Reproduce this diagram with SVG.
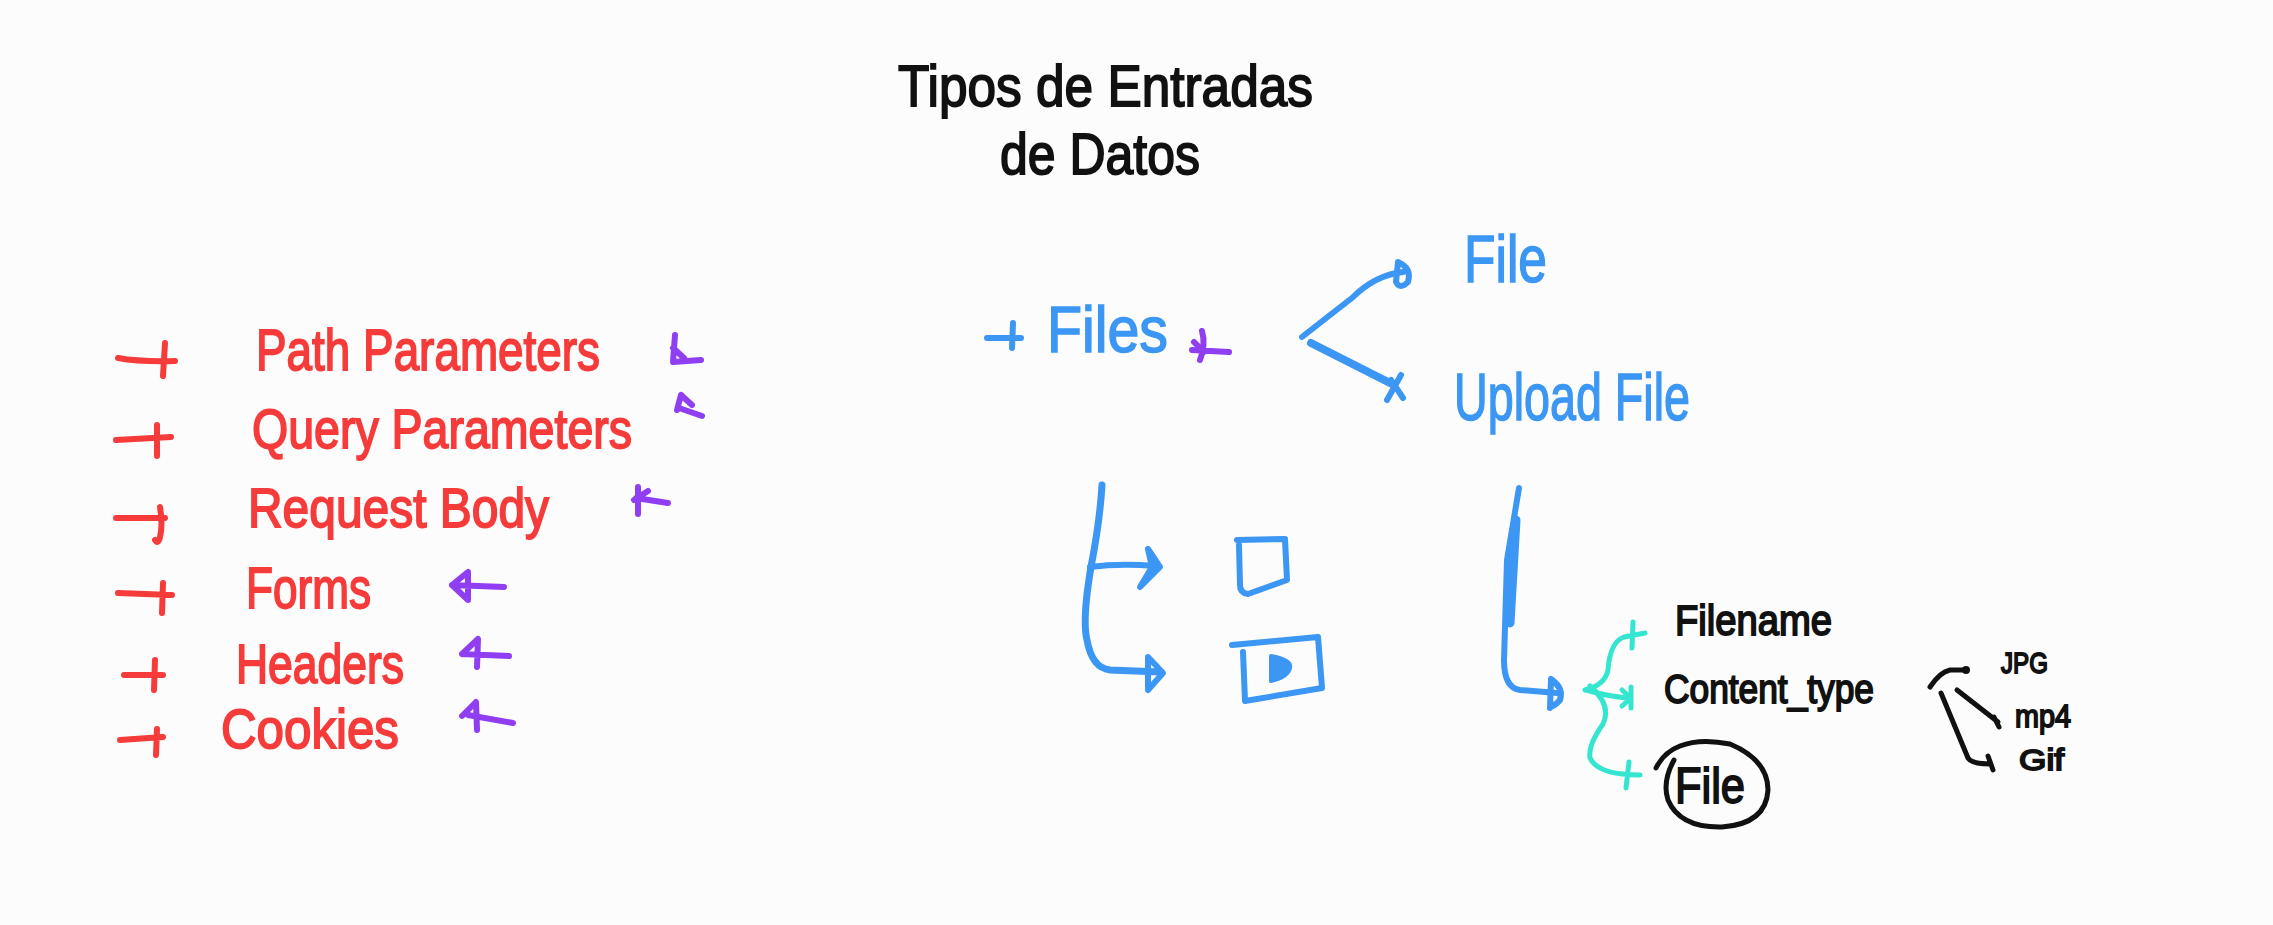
<svg xmlns="http://www.w3.org/2000/svg" width="2273" height="925" viewBox="0 0 2273 925">
<style>
.t{font-family:"Liberation Sans","DejaVu Sans",sans-serif;}
.red{fill:#f63b3b;stroke:#f63b3b;stroke-width:1.8}
.blk{fill:#111;stroke:#111;stroke-width:1.8}
.blu{fill:#3b97f3;stroke:#3b97f3;stroke-width:1.5}
.sr{fill:none;stroke:#f63b3b;stroke-width:6;stroke-linecap:round;stroke-linejoin:round}
.sp{fill:none;stroke:#8f3ef2;stroke-width:6;stroke-linecap:round;stroke-linejoin:round}
.sb{fill:none;stroke:#3b97f3;stroke-width:6;stroke-linecap:round;stroke-linejoin:round}
.st{fill:none;stroke:#34e5cf;stroke-width:5;stroke-linecap:round;stroke-linejoin:round}
.sk{fill:none;stroke:#111;stroke-width:5;stroke-linecap:round;stroke-linejoin:round}
</style>
<rect width="2273" height="925" fill="#fcfcfc"/>

<g id="title">
<text class="t blk" x="898" y="106" font-size="58" textLength="415" lengthAdjust="spacingAndGlyphs">Tipos de Entradas</text>
<text class="t blk" x="1000" y="174" font-size="58" textLength="200" lengthAdjust="spacingAndGlyphs">de Datos</text>
</g>

<g id="path-parameters">
<text class="t red" x="256" y="370" font-size="58" textLength="344" lengthAdjust="spacingAndGlyphs">Path Parameters</text>
</g>
<g id="query-parameters">
<text class="t red" x="252" y="448" font-size="56" textLength="380" lengthAdjust="spacingAndGlyphs">Query Parameters</text>
</g>
<g id="request-body">
<text class="t red" x="248" y="527" font-size="56" textLength="301" lengthAdjust="spacingAndGlyphs">Request Body</text>
</g>
<g id="forms">
<text class="t red" x="246" y="608" font-size="58" textLength="125" lengthAdjust="spacingAndGlyphs">Forms</text>
</g>
<g id="headers">
<text class="t red" x="236" y="683" font-size="56" textLength="168" lengthAdjust="spacingAndGlyphs">Headers</text>
</g>
<g id="cookies">
<text class="t red" x="221" y="748" font-size="56" textLength="178" lengthAdjust="spacingAndGlyphs">Cookies</text>
</g>

<g id="files">
<text class="t blu" x="1047" y="352" font-size="64" textLength="121" lengthAdjust="spacingAndGlyphs">Files</text>
</g>
<g id="file">
<text class="t blu" x="1464" y="282" font-size="66" textLength="83" lengthAdjust="spacingAndGlyphs">File</text>
</g>
<g id="upload-file">
<text class="t blu" x="1454" y="420" font-size="66" textLength="236" lengthAdjust="spacingAndGlyphs">Upload File</text>
</g>

<g id="list-icon">
<path class="sb" d="M1237,540 L1285,539 L1287,580 L1248,594 Q1240,593 1240,585 L1239,545"/>
</g>
<g id="video-icon">
<path class="sb" d="M1232,645 L1318,637 L1322,688 L1245,701 L1243,652"/>
<path d="M1271,656 Q1292,660 1290,668 Q1288,677 1271,681 Z" fill="#3b97f3" stroke="#3b97f3" stroke-width="4" stroke-linejoin="round"/>
</g>

<g id="filename">
<text class="t blk" x="1675" y="635" font-size="42" textLength="157" lengthAdjust="spacingAndGlyphs">Filename</text>
</g>
<g id="content-type">
<text class="t blk" x="1664" y="703" font-size="40" textLength="210" lengthAdjust="spacingAndGlyphs">Content_type</text>
</g>
<g id="file-circled">
<text class="t blk" x="1675" y="803" font-size="50" textLength="70" lengthAdjust="spacingAndGlyphs">File</text>
<path class="sk" d="M1656,768 Q1664,752 1680,746 Q1700,738 1730,744 Q1768,760 1768,790 Q1766,824 1722,827 Q1680,828 1668,800 Q1662,782 1674,760"/>
</g>
<g id="jpg">
<text class="t blk" x="2001" y="673" font-size="30" textLength="47" lengthAdjust="spacingAndGlyphs">JPG</text>
</g>
<g id="mp4">
<text class="t blk" x="2015" y="727" font-size="32" textLength="56" lengthAdjust="spacingAndGlyphs">mp4</text>
</g>
<g id="gif">
<text class="t blk" x="2019" y="770" font-size="30" textLength="45" lengthAdjust="spacingAndGlyphs">Gif</text>
</g>

<g id="connectors">
<!-- red bullets -->
<path class="sr" d="M118,358 Q140,362 175,361 M165,343 L163,376"/>
<path class="sr" d="M116,440 L171,437 M157,425 L157,456"/>
<path class="sr" d="M116,518 L165,518 M160,507 Q163,525 160,537 Q158,545 155,540"/>
<path class="sr" d="M118,593 L172,595 M163,583 L162,613"/>
<path class="sr" d="M124,675 L163,675 M155,660 L154,690"/>
<path class="sr" d="M120,740 L163,737 M157,729 L156,755"/>
<!-- purple arrows -->
<path class="sp" d="M675,335 L673,362 L701,360 M673,348 L684,358"/>
<path class="sp" d="M681,395 L677,410 M681,395 L692,405 M679,408 L702,416"/>
<path class="sp" d="M638,487 L638,514 M634,500 L648,491 M636,498 L668,503"/>
<path class="sp" d="M452,585 L468,572 L468,600 Z M452,585 L504,587"/>
<path class="sp" d="M462,654 L478,639 L477,667 M462,654 L509,656"/>
<path class="sp" d="M462,716 L476,702 L477,730 M468,715 L513,723"/>
<path class="sp" d="M1202,331 Q1206,345 1200,360 M1192,350 L1229,352 M1194,342 L1204,352"/>
<!-- Files bullet -->
<path class="sb" d="M987,338 L1021,338 M1013,323 L1012,348"/>
<!-- branch -->
<path class="sb" d="M1302,337 Q1330,315 1352,298 Q1375,275 1403,272"/>
<path class="sb" d="M1398,262 Q1412,268 1408,282 Q1400,290 1396,282 Z"/>
<path class="sb" style="stroke-width:8" d="M1311,343 L1394,385"/>
<path class="sb" d="M1387,400 L1401,375 M1391,380 L1403,398"/>
<!-- left tree -->
<path class="sb" style="stroke-width:7" d="M1102,485 Q1100,520 1091,567 Q1082,620 1087,640 Q1092,668 1110,670 L1160,672"/>
<path class="sb" d="M1090,567 Q1120,563 1155,566"/>
<path d="M1148,549 L1160,567 L1140,587 L1152,567 Z" fill="#3b97f3" stroke="#3b97f3" stroke-width="6" stroke-linejoin="round"/>
<path class="sb" d="M1148,657 L1163,673 L1148,690 Z"/>
<!-- right tree -->
<path class="sb" d="M1519,488 L1507,560 L1504,660 Q1504,688 1520,690 L1557,693"/>
<path class="sb" style="stroke-width:9" d="M1516,520 L1510,623"/>
<path class="sb" d="M1551,679 Q1564,688 1560,700 Q1555,706 1550,707 M1551,679 L1550,708"/>
<!-- teal -->
<path class="st" d="M1585,690 Q1605,685 1608,670 Q1610,642 1624,637 L1645,633 M1633,622 L1632,648"/>
<path class="st" d="M1586,690 Q1610,697 1630,698 M1631,687 L1631,708 M1622,690 L1631,698 L1622,706"/>
<path class="st" d="M1590,686 Q1612,705 1603,724 Q1588,745 1590,758 Q1598,775 1640,775 M1629,762 L1626,788"/>
<!-- black -->
<path class="sk" d="M1930,687 Q1940,672 1950,670 L1966,670"/>
<circle cx="1966" cy="670" r="4" fill="#111"/>
<path class="sk" d="M1957,690 L1998,722 M1994,717 L1999,727"/>
<path class="sk" d="M1941,693 L1968,758 Q1972,764 1990,764 M1988,756 L1993,770"/>
</g>
</svg>
